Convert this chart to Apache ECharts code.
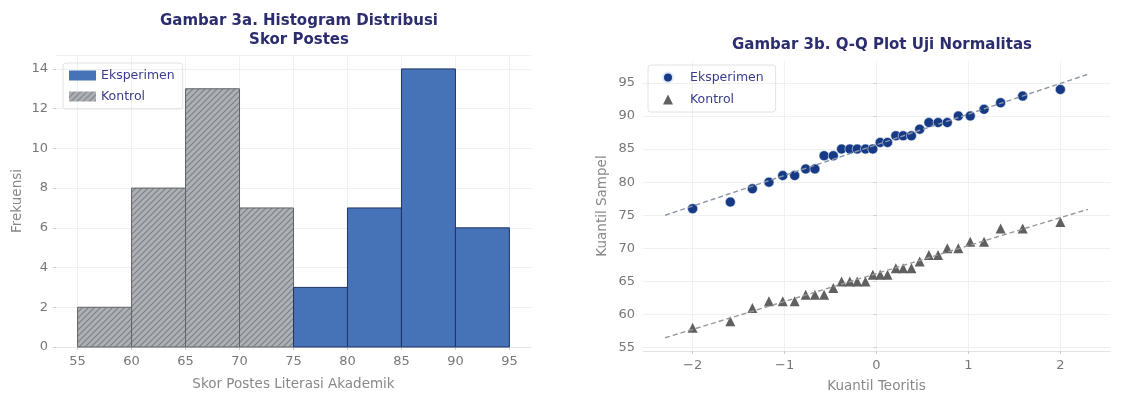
<!DOCTYPE html>
<html>
<head>
<meta charset="utf-8">
<script src="https://cdn.jsdelivr.net/npm/echarts@6/dist/echarts.min.js"></script>
<style>
  html, body { margin: 0; padding: 0; background: #fff; }
  #chart { width: 1127px; height: 398px; }
</style>
</head>
<body>
<div id="chart"></div>
<script>
// histogram: bin edges + counts per group
const binEdges = [55, 60, 65, 70, 75, 80, 85, 90, 95];
const kontrolFreq = [2, 8, 13, 7, 0, 0, 0, 0];
const eksperimenFreq = [0, 0, 0, 0, 3, 7, 14, 6];
const histTicks = [55, 60, 65, 70, 75, 80, 85, 90, 95];

// Q-Q plot: theoretical quantiles and sorted samples
const teoritis = [-2.00, -1.59, -1.35, -1.17, -1.02, -0.89, -0.77, -0.67, -0.57, -0.47,
  -0.38, -0.29, -0.21, -0.12, -0.04, 0.04, 0.12, 0.21, 0.29, 0.38,
  0.47, 0.57, 0.67, 0.77, 0.89, 1.02, 1.17, 1.35, 1.59, 2.00];
const sampelEksperimen = [76, 77, 79, 80, 81, 81, 82, 82, 84, 84,
  85, 85, 85, 85, 85, 86, 86, 87, 87, 87,
  88, 89, 89, 89, 90, 90, 91, 92, 93, 94];
const sampelKontrol = [58, 59, 61, 62, 62, 62, 63, 63, 63, 64,
  65, 65, 65, 65, 66, 66, 66, 67, 67, 67,
  68, 69, 69, 70, 70, 71, 71, 73, 73, 74];
const garisX = [-2.3, 2.3];
const garisEksperimen = [75.0, 96.3];
const garisKontrol = [56.5, 75.9];
const qqXTicks = [-2, -1, 0, 1, 2];
const qqYTicks = [55, 60, 65, 70, 75, 80, 85, 90, 95];

const BLUE = '#4672b8';
const NAVY = '#173a86';
const TITLE = '#2c2d6e';
const TXT = '#777';
const GRID = '#f0f0f0';

// hatch tile for Kontrol bars
function hatch() {
  const s = 6;
  const c = document.createElement('canvas');
  c.width = s; c.height = s;
  const g = c.getContext('2d');
  g.fillStyle = '#adb1b5';
  g.fillRect(0, 0, s, s);
  g.strokeStyle = '#7c8186';
  g.lineWidth = 1.2;
  g.beginPath();
  g.moveTo(-1, s + 1); g.lineTo(s + 1, -1);
  g.moveTo(-1, 1); g.lineTo(1, -1);
  g.moveTo(s - 1, s + 1); g.lineTo(s + 1, s - 1);
  g.stroke();
  return { image: c, repeat: 'repeat' };
}
const hatchFill = hatch();

function binData(freq) {
  const out = [];
  freq.forEach((f, i) => { if (f > 0) out.push([binEdges[i], binEdges[i + 1], f]); });
  return out;
}

function rectItem(fill, stroke) {
  return function (params, api) {
    const p0 = api.coord([api.value(0), api.value(2)]);
    const p1 = api.coord([api.value(1), 0]);
    return {
      type: 'rect',
      shape: { x: p0[0], y: p0[1], width: p1[0] - p0[0], height: p1[1] - p0[1] },
      style: { fill: fill, stroke: stroke, lineWidth: 1 }
    };
  };
}

const axisText = { color: TXT, fontSize: 13, fontFamily: 'DejaVu Sans' };
const nameText = { color: '#888', fontSize: 13.5, fontFamily: 'DejaVu Sans' };

var myChart = echarts.init(document.getElementById('chart'));
myChart.setOption({
  animation: false,
  textStyle: { fontFamily: 'DejaVu Sans' },
  title: [
    {
      text: 'Gambar 3a. Histogram Distribusi\nSkor Postes',
      left: 294, top: 7, textAlign: 'center',
      textStyle: { color: TITLE, fontSize: 15, fontWeight: 'bold', lineHeight: 19, fontFamily: 'DejaVu Sans' }
    },
    {
      text: 'Gambar 3b. Q-Q Plot Uji Normalitas',
      left: 877, top: 33, textAlign: 'center',
      textStyle: { color: TITLE, fontSize: 15, fontWeight: 'bold', fontFamily: 'DejaVu Sans' }
    }
  ],
  legend: [
    {
      left: 63, top: 63, orient: 'vertical',
      itemWidth: 27, itemHeight: 10, itemGap: 8,
      padding: [6, 8, 6, 6],
      borderColor: '#e2e2e2', borderWidth: 1, borderRadius: 3,
      textStyle: { color: '#3b3b8f', fontSize: 12.5 },
      data: [
        { name: 'Eksperimen', icon: 'rect', itemStyle: { color: BLUE } },
        { name: 'Kontrol', icon: 'rect', itemStyle: { color: hatchFill } }
      ]
    },
    {
      left: 648, top: 65, orient: 'vertical',
      itemWidth: 10, itemHeight: 10, itemGap: 9,
      padding: [6, 8, 6, 14],
      borderColor: '#e2e2e2', borderWidth: 1, borderRadius: 3,
      textStyle: { color: '#3b3b8f', fontSize: 12.5, padding: [0, 0, 0, 12] },
      data: [
        { name: 'Eksperimen ', icon: 'circle', itemStyle: { color: NAVY } },
        { name: 'Kontrol ', icon: 'triangle', itemStyle: { color: '#606060' } }
      ]
    }
  ],
  grid: [
    { left: 56, right: 596, top: 55, bottom: 51 },
    { left: 643, right: 17, top: 61, bottom: 46 }
  ],
  xAxis: [
    {
      type: 'value', gridIndex: 0, min: 53, max: 97,
      name: 'Skor Postes Literasi Akademik', nameLocation: 'middle', nameGap: 30,
      nameTextStyle: nameText,
      axisLine: { show: true, lineStyle: { color: '#e3e3e3' } },
      axisTick: { show: true, customValues: histTicks, length: 3, lineStyle: { color: '#ccc' } },
      axisLabel: Object.assign({ customValues: histTicks, margin: 8 }, axisText),
      splitLine: { show: true, lineStyle: { color: GRID } }
    },
    {
      type: 'value', gridIndex: 1, min: -2.54, max: 2.54,
      name: 'Kuantil Teoritis', nameLocation: 'middle', nameGap: 28,
      nameTextStyle: nameText,
      axisLine: { show: true, onZero: false, lineStyle: { color: '#e3e3e3' } },
      axisTick: { show: true, customValues: qqXTicks, length: 3, lineStyle: { color: '#ccc' } },
      axisLabel: Object.assign({ customValues: qqXTicks, margin: 8,
        formatter: v => (v < 0 ? '\u2212' + Math.abs(v) : String(v)) }, axisText),
      splitLine: { show: true, lineStyle: { color: GRID } }
    }
  ],
  yAxis: [
    {
      type: 'value', gridIndex: 0, min: 0, max: 14.7, interval: 2,
      name: 'Frekuensi', nameLocation: 'middle', nameGap: 32,
      nameTextStyle: nameText,
      axisLine: { show: false },
      axisTick: { show: true, length: 3, lineStyle: { color: '#ccc' } },
      axisLabel: Object.assign({ margin: 8, showMaxLabel: false }, axisText),
      splitLine: { show: true, lineStyle: { color: GRID } }
    },
    {
      type: 'value', gridIndex: 1, min: 54.5, max: 98.3,
      name: 'Kuantil Sampel', nameLocation: 'middle', nameGap: 34,
      nameTextStyle: nameText,
      axisLine: { show: false },
      axisTick: { show: true, customValues: qqYTicks, length: 3, lineStyle: { color: '#ccc' } },
      axisLabel: Object.assign({ customValues: qqYTicks, margin: 8 }, axisText),
      splitLine: { show: true, lineStyle: { color: GRID } }
    }
  ],
  series: [
    {
      name: 'Kontrol', type: 'custom', xAxisIndex: 0, yAxisIndex: 0,
      renderItem: rectItem(hatchFill, '#5f6367'),
      encode: { x: [0, 1], y: 2 },
      data: binData(kontrolFreq)
    },
    {
      name: 'Eksperimen', type: 'custom', xAxisIndex: 0, yAxisIndex: 0,
      renderItem: rectItem(BLUE, '#1e3566'),
      encode: { x: [0, 1], y: 2 },
      data: binData(eksperimenFreq)
    },
    {
      type: 'line', xAxisIndex: 1, yAxisIndex: 1, symbol: 'none', silent: true,
      lineStyle: { color: '#8d95a8', width: 1.4, type: [5, 3] },
      data: garisX.map((x, i) => [x, garisEksperimen[i]])
    },
    {
      type: 'line', xAxisIndex: 1, yAxisIndex: 1, symbol: 'none', silent: true,
      lineStyle: { color: '#999', width: 1.4, type: [5, 3] },
      data: garisX.map((x, i) => [x, garisKontrol[i]])
    },
    {
      name: 'Eksperimen ', type: 'scatter', xAxisIndex: 1, yAxisIndex: 1,
      symbol: 'circle', symbolSize: 10,
      itemStyle: { color: NAVY, opacity: 1, borderColor: '#dfe7f5', borderWidth: 0.6 },
      data: teoritis.map((x, i) => [x, sampelEksperimen[i]])
    },
    {
      name: 'Kontrol ', type: 'scatter', xAxisIndex: 1, yAxisIndex: 1,
      symbol: 'triangle', symbolSize: 10,
      itemStyle: { color: '#606060', opacity: 1 },
      data: teoritis.map((x, i) => [x, sampelKontrol[i]])
    }
  ]
});
</script>
</body>
</html>
